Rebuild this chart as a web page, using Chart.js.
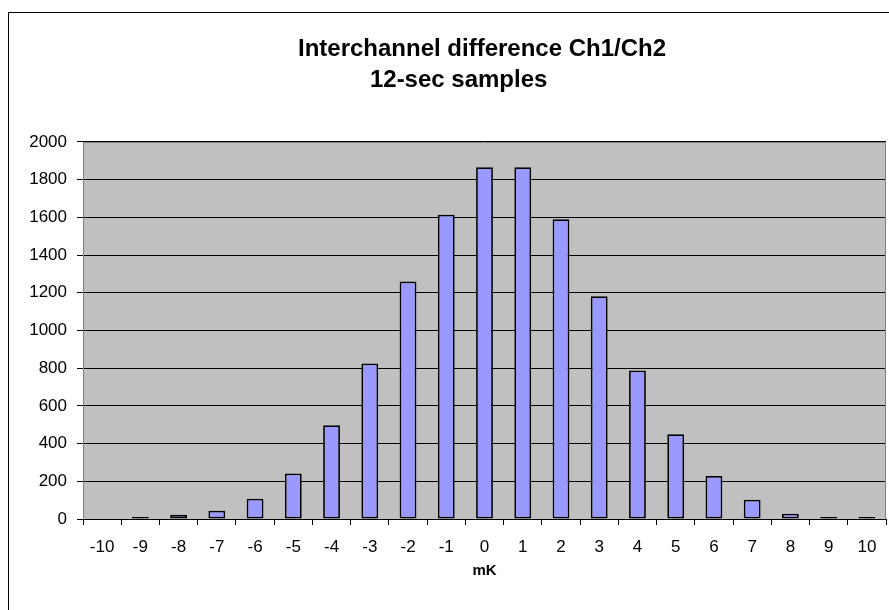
<!DOCTYPE html>
<html>
<head>
<meta charset="utf-8">
<script src="https://cdn.jsdelivr.net/npm/chart.js@4/dist/chart.umd.min.js"></script>
<style>
  html, body { margin: 0; padding: 0; background: #fff; overflow: hidden; width: 889px; height: 610px; }
  #frame { position: absolute; left: 8px; top: 12px; width: 1000px; height: 1000px; border: 1px solid #000; }
  #wrap { position: absolute; left: 9px; top: 13px; width: 946px; height: 597px; }
</style>
</head>
<body>
<div id="frame"></div>
<div id="wrap"><canvas id="c" width="946" height="597"></canvas></div>
<script>
const categories = ['-10','-9','-8','-7','-6','-5','-4','-3','-2','-1','0','1','2','3','4','5','6','7','8','9','10'];
const counts = [0, 10, 22, 44, 108, 242, 497, 825, 1260, 1614, 1866, 1866, 1590, 1181, 788, 449, 228, 102, 28, 10, 10];
const titleLines = ['Interchannel difference Ch1/Ch2', '12-sec samples' + '\u00a0'.repeat(7)];
const xTitle = 'mK';
const yMin = 0, yMax = 2000, yStep = 200;

const FONT = "'Liberation Sans', Arial, sans-serif";

const plotBg = {
  id: 'plotBg',
  beforeDraw(chart) {
    const {ctx, chartArea: a} = chart;
    ctx.save();
    ctx.fillStyle = '#C0C0C0';
    ctx.fillRect(a.left, a.top, a.right - a.left, a.bottom - a.top);
    ctx.restore();
  },
  beforeDatasetsDraw(chart) {
    const {ctx, chartArea: a} = chart;
    ctx.save();
    ctx.strokeStyle = '#808080';
    ctx.lineWidth = 1;
    ctx.beginPath();
    ctx.moveTo(a.left + 0.5, a.bottom);
    ctx.lineTo(a.left + 0.5, a.top + 0.5);
    ctx.lineTo(a.right - 0.5, a.top + 0.5);
    ctx.lineTo(a.right - 0.5, a.bottom);
    ctx.stroke();
    ctx.restore();
  }
};

new Chart(document.getElementById('c'), {
  type: 'bar',
  data: {
    labels: categories,
    datasets: [{
      data: counts,
      backgroundColor: '#9999FF',
      borderColor: '#000000',
      borderWidth: 1.75,
      borderSkipped: false,
      barPercentage: 0.44,
      categoryPercentage: 1.0
    }]
  },
  options: {
    responsive: false,
    animation: false,
    devicePixelRatio: 1,
    layout: { padding: 0 },
    plugins: {
      legend: { display: false },
      tooltip: { enabled: false },
      title: {
        display: true,
        text: titleLines,
        color: '#000',
        font: { family: FONT, size: 24, weight: 'bold', lineHeight: 1.31 },
        padding: { top: 20.5, bottom: 45.6 }
      }
    },
    scales: {
      x: {
        type: 'category',
        offset: true,
        grid: { display: true, drawOnChartArea: false, drawTicks: true, tickLength: 6, color: '#000', offset: true },
        border: { display: true, color: '#000', width: 1 },
        ticks: { color: '#000', font: { family: FONT, size: 17 }, padding: 12, maxRotation: 0, autoSkip: false },
        title: { display: true, text: xTitle, color: '#000', font: { family: FONT, size: 15, weight: 'bold' }, padding: { top: 0, bottom: 30 } },
        afterFit(s) { s.height = 91; }
      },
      y: {
        min: yMin, max: yMax,
        grid: { color: '#000', tickLength: 6, lineWidth: 1, tickColor: '#000' },
        border: { display: false },
        ticks: { stepSize: yStep, color: '#000', font: { family: FONT, size: 17 }, padding: 10,
                 callback: (v) => String(v) },
        afterFit(s) { s.width = 74; }
      },
      yRight: {
        position: 'right',
        display: true,
        min: yMin, max: yMax,
        grid: { display: false, drawOnChartArea: false },
        border: { display: false },
        ticks: { display: false },
        afterFit(s) { s.width = 69; }
      }
    }
  },
  plugins: [plotBg]
});
</script>
</body>
</html>
